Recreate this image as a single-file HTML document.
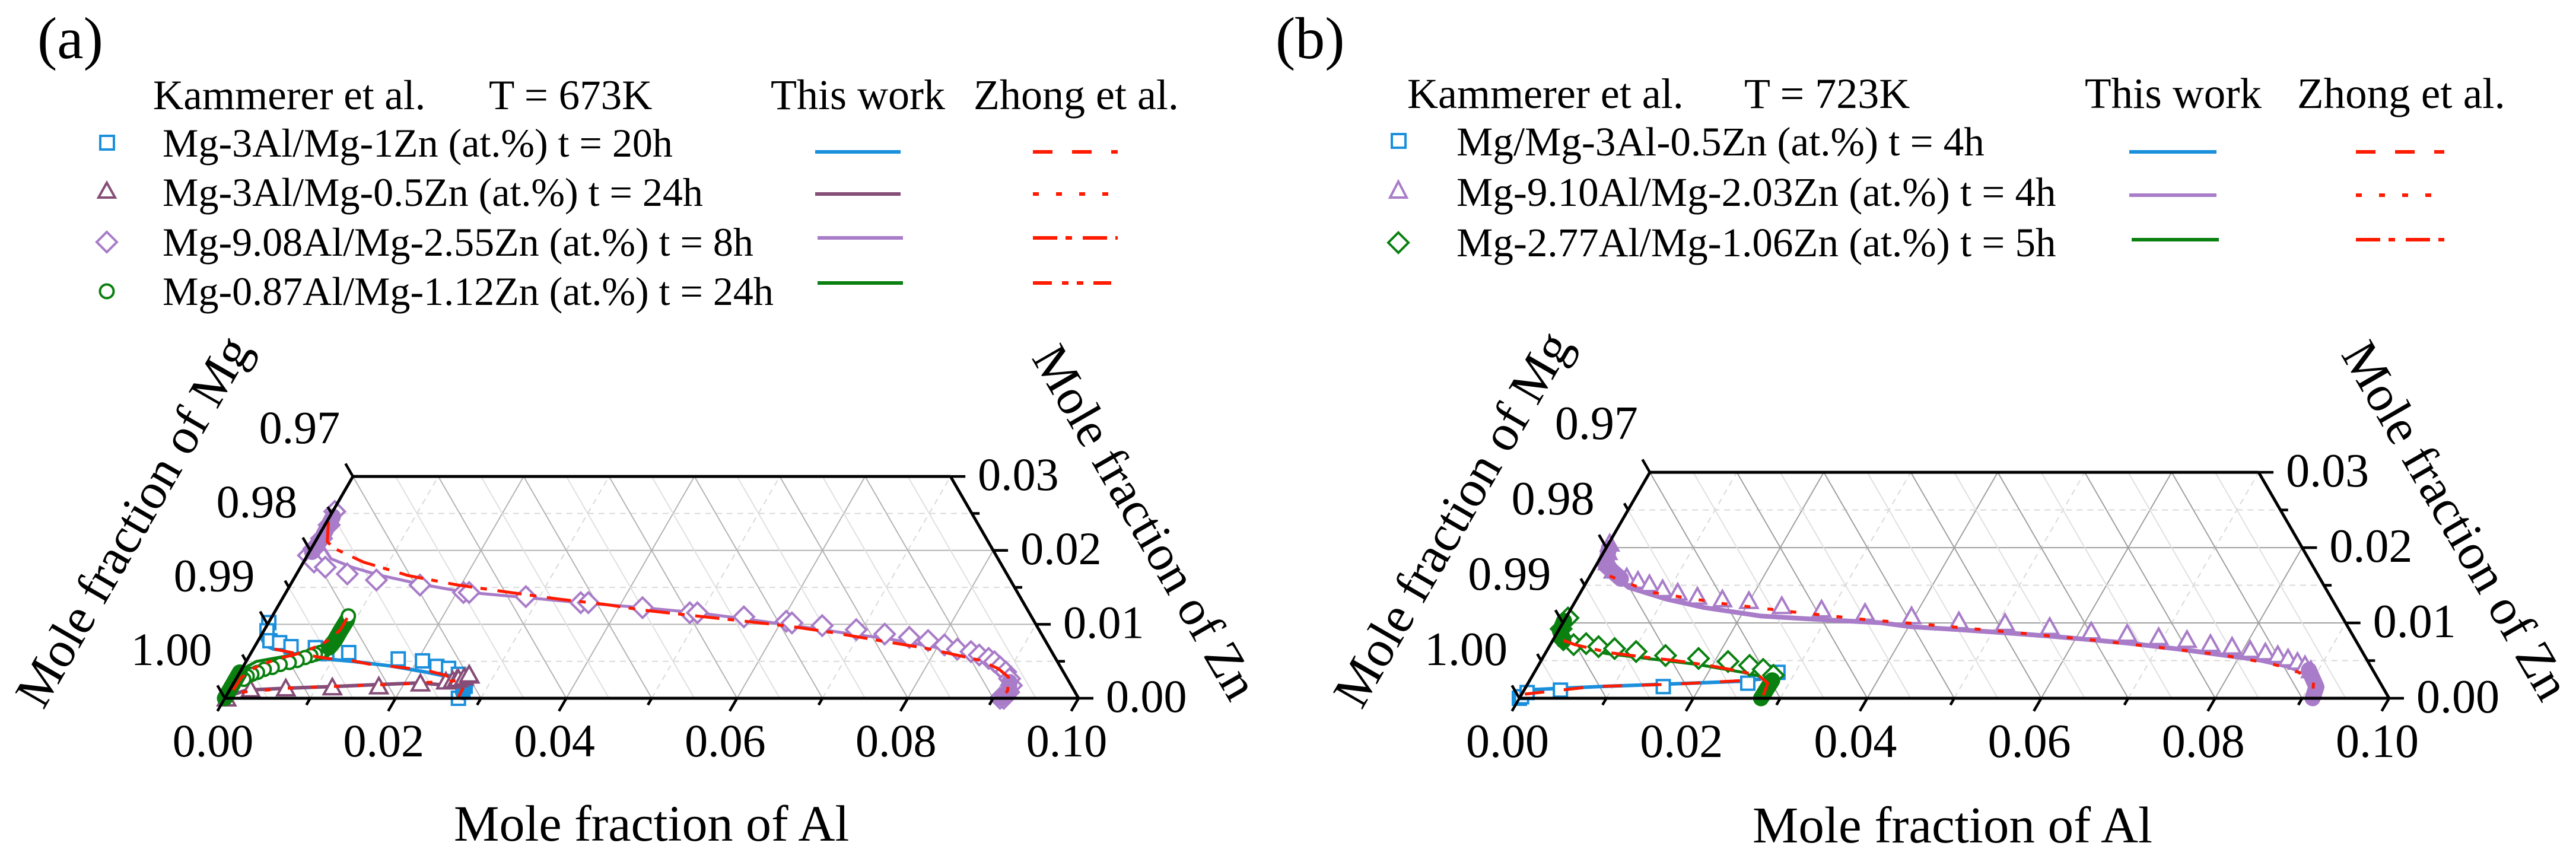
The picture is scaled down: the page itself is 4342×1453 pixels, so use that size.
<!DOCTYPE html>
<html lang="en">
<head>
<meta charset="utf-8">
<title>Mg-Al-Zn diffusion paths at 673K and 723K</title>
<style>
html,body{margin:0;padding:0;background:#fff;width:4342px;height:1453px;overflow:hidden}
svg{display:block}
text{font-family:"Liberation Serif",serif;fill:#000}
</style>
</head>
<body>
<svg id="figure" xmlns="http://www.w3.org/2000/svg" width="4342" height="1453" viewBox="0 0 4342 1453">
<rect width="4342" height="1453" fill="#fff"/>

<g>
<text x="63" y="98" font-size="100">(a)</text>
<text x="258" y="184" font-size="71">Kammerer et al.</text>
<text x="824" y="184" font-size="71">T = 673K</text>
<text x="1299" y="184" font-size="72">This work</text>
<text x="1641" y="184" font-size="72">Zhong et al.</text>
<text x="274" y="264" font-size="68">Mg-3Al/Mg-1Zn (at.%) t = 20h</text>
<text x="274" y="347" font-size="68">Mg-3Al/Mg-0.5Zn (at.%) t = 24h</text>
<text x="274" y="431" font-size="68">Mg-9.08Al/Mg-2.55Zn (at.%) t = 8h</text>
<text x="274" y="514" font-size="68">Mg-0.87Al/Mg-1.12Zn (at.%) t = 24h</text>
<rect x="169" y="229" width="23" height="23" fill="none" stroke="#1a8fdc" stroke-width="4"/>
<path d="M180 308 L194 333 L166 333 Z" fill="none" stroke="#854d77" stroke-width="4"/>
<path d="M180 391 L197 408 L180 425 L163 408 Z" fill="none" stroke="#a87cc8" stroke-width="4"/>
<circle cx="180" cy="491" r="11.5" fill="none" stroke="#0a8010" stroke-width="4"/>
<line x1="1374" x2="1518" y1="256" y2="256" stroke="#1a8fdc" stroke-width="6"/>
<line x1="1374" x2="1518" y1="327" y2="327" stroke="#854d77" stroke-width="6"/>
<line x1="1378" x2="1522" y1="401" y2="401" stroke="#a87cc8" stroke-width="6"/>
<line x1="1378" x2="1522" y1="477" y2="477" stroke="#0a8010" stroke-width="6"/>
<line x1="1741" x2="1884" y1="256" y2="256" stroke="#ff1a00" stroke-width="6" stroke-dasharray="33 33"/>
<line x1="1741" x2="1873" y1="327" y2="327" stroke="#ff1a00" stroke-width="6" stroke-dasharray="10 29"/>
<line x1="1741" x2="1884" y1="401" y2="401" stroke="#ff1a00" stroke-width="6" stroke-dasharray="41 14 11 18"/>
<line x1="1741" x2="1873" y1="477" y2="477" stroke="#ff1a00" stroke-width="6" stroke-dasharray="32 17 11 14 11 17"/>
</g>

<g>
<text x="2150" y="98" font-size="100">(b)</text>
<text x="2372" y="182" font-size="72">Kammerer et al.</text>
<text x="2940" y="182" font-size="72">T = 723K</text>
<text x="3514" y="182" font-size="73">This work</text>
<text x="3872" y="182" font-size="73">Zhong et al.</text>
<text x="2455" y="262" font-size="69">Mg/Mg-3Al-0.5Zn (at.%) t = 4h</text>
<text x="2455" y="347" font-size="69">Mg-9.10Al/Mg-2.03Zn (at.%) t = 4h</text>
<text x="2455" y="432" font-size="69">Mg-2.77Al/Mg-1.06Zn (at.%) t = 5h</text>
<rect x="2346" y="226" width="23" height="23" fill="none" stroke="#1a8fdc" stroke-width="4"/>
<path d="M2357 306 L2371 333 L2343 333 Z" fill="none" stroke="#a87cc8" stroke-width="4"/>
<path d="M2357 392 L2374 409 L2357 426 L2340 409 Z" fill="none" stroke="#0a8010" stroke-width="4"/>
<line x1="3589" x2="3736" y1="256" y2="256" stroke="#1a8fdc" stroke-width="6"/>
<line x1="3589" x2="3736" y1="329" y2="329" stroke="#a87cc8" stroke-width="6"/>
<line x1="3593" x2="3740" y1="404" y2="404" stroke="#0a8010" stroke-width="6"/>
<line x1="3971" x2="4120" y1="256" y2="256" stroke="#ff1a00" stroke-width="6" stroke-dasharray="33 33"/>
<line x1="3971" x2="4107" y1="329" y2="329" stroke="#ff1a00" stroke-width="6" stroke-dasharray="10 29"/>
<line x1="3971" x2="4120" y1="404" y2="404" stroke="#ff1a00" stroke-width="6" stroke-dasharray="41 14 11 18"/>
</g>

<g id="plot-a"></g>
<g id="plot-b"></g>

<text x="765" y="1417" font-size="86">Mole fraction of Al</text>
<text transform="translate(73 1198) rotate(-60)" font-size="86">Mole fraction of Mg</text>
<text transform="translate(1738 603) rotate(60)" font-size="85">Mole fraction of Zn</text>
<text x="2954" y="1420" font-size="87">Mole fraction of Al</text>
<text transform="translate(2295 1198) rotate(-60)" font-size="87">Mole fraction of Mg</text>
<text transform="translate(3945 597) rotate(60)" font-size="86">Mole fraction of Zn</text>
</svg>

<script>
// Each point is [mole fraction Al, mole fraction Zn]; Mg is the balance.
const alTickValues = [0, 0.02, 0.04, 0.06, 0.08, 0.10];
const alTickLabels = ["0.00", "0.02", "0.04", "0.06", "0.08", "0.10"];
const znTickValues = [0, 0.01, 0.02, 0.03];
const znTickLabels = ["0.00", "0.01", "0.02", "0.03"];
const mgTickLabels = ["1.00", "0.99", "0.98", "0.97"];

// Panel (a), T = 673K
const a_blue_exp = [[0.00003,0.01024],[0.00038,0.00912],[0.00139,0.00778],[0.00266,0.00752],[0.00426,0.00698],[0.00718,0.00685],[0.00891,0.00605],[0.01142,0.00618],[0.01765,0.00532],[0.02062,0.00506],[0.02268,0.00431],[0.02419,0.00404],[0.02574,0.00324],[0.02653,0.00243],[0.02733,0.00163],[0.02747,0.00083],[0.02736,0]];
const a_blue_calc = [[0,0.01024],[0.00032,0.00805],[0.00119,0.00712],[0.00235,0.00666],[0.00465,0.00631],[0.00765,0.00564],[0.00942,0.0053],[0.01251,0.00498],[0.01733,0.00436],[0.02201,0.0035],[0.02501,0.00284],[0.027,0.0023],[0.02786,0.00163],[0.02801,0.00056],[0.02775,0]];
const a_blue_zhong = [[0.00248,0.00666],[0.00472,0.00618],[0.00938,0.00538],[0.01247,0.00506],[0.01453,0.00463],[0.01791,0.00425],[0.01962,0.00404],[0.02221,0.00364],[0.02404,0.00318],[0.02614,0.00243],[0.02721,0.00136],[0.02728,0.00016]];
const a_blue_band = [[0.02733,0.00163],[0.02747,0.00083]];

const a_plum_exp = [[0.0002,0],[0.0024,0.00123],[0.00646,0.00136],[0.01184,0.0015],[0.01722,0.00163],[0.02189,0.00203],[0.02474,0.0023],[0.02547,0.00243],[0.02588,0.00257],[0.02603,0.00265],[0.0266,0.00284],[0.02714,0.0031],[0.02699,0.00324]];
const a_plum_calc = [[0.00034,0.00029],[0.00194,0.0011],[0.00646,0.00136],[0.0118,0.00158],[0.01712,0.00185],[0.02187,0.00209],[0.02558,0.00169],[0.02839,0.00243]];
const a_plum_zhong = [[0.00155,0.00083],[0.00736,0.00142],[0.01532,0.00174],[0.02065,0.00198],[0.02603,0.00238]];

const a_purple_exp = [[0.00024,0.02527],[0.0005,0.02344],[0.00052,0.02161],[0.00032,0.02024],[0.00012,0.01933],[0.00123,0.01842],[0.0029,0.01773],[0.00593,0.01682],[0.00976,0.01599],[0.0152,0.01531],[0.0208,0.0143],[0.02146,0.0143],[0.02838,0.01375],[0.03522,0.01293],[0.03611,0.01293],[0.0428,0.01225],[0.04868,0.01156],[0.04957,0.01156],[0.05529,0.01101],[0.06055,0.01042],[0.06133,0.01019],[0.06506,0.00982],[0.06932,0.00928],[0.07295,0.00868],[0.07606,0.00823],[0.07847,0.00781],[0.08068,0.00722],[0.08248,0.00663],[0.08424,0.00631],[0.08544,0.00585],[0.08677,0.00539],[0.08767,0.00494],[0.08868,0.00425],[0.08969,0.00356],[0.09059,0.00265],[0.09126,0.00174],[0.09141,0.00082],[0.09124,0],[0.0908,0]];
const a_purple_calc = [[0.00037,0.02458],[0.00082,0.02207],[0.00131,0.02047],[0.003,0.01887],[0.00601,0.01773],[0.00964,0.01668],[0.01513,0.01545],[0.02075,0.01439],[0.02845,0.01362],[0.03522,0.01293],[0.0428,0.01225],[0.04957,0.01156],[0.05552,0.01074],[0.06078,0.00996],[0.06533,0.00928],[0.06966,0.00859],[0.07322,0.00813],[0.07884,0.00708],[0.08264,0.00631],[0.08566,0.00539],[0.0879,0.00448],[0.08957,0.00334],[0.09071,0.00196],[0.09094,0.00059],[0.0905,0]];
const a_purple_zhong = [[0.00018,0.0239],[0.00142,0.02116],[0.00276,0.02024],[0.007,0.01842],[0.01322,0.01659],[0.01964,0.01531],[0.02634,0.0143],[0.03256,0.01339],[0.03814,0.0127],[0.04296,0.01193],[0.04908,0.0112],[0.05568,0.01042],[0.06134,0.00973],[0.06662,0.00891],[0.07345,0.00768],[0.07878,0.00676],[0.08578,0.00516],[0.08857,0.00402],[0.09034,0.00288],[0.09117,0.00105],[0.091,0]];
const a_purple_band_top = [[0.00037,0.02458],[0.00052,0.02161],[0.00032,0.01979]];
const a_purple_band_end = [[0.09081,0.00219],[0.09141,0.00082],[0.091,0]];

const a_green_exp = [[0.0089,0.01113],[0.00837,0.00631],[0.00804,0.00618],[0.00762,0.00596],[0.00718,0.00578],[0.00664,0.00551],[0.00591,0.00511],[0.00512,0.00484],[0.00419,0.00457],[0.00346,0.00417],[0.00266,0.00391],[0.00207,0.0035],[0.00154,0.00324],[0.00113,0.00297],[0.00093,0.00257]];
const a_green_calc = [[0.00902,0.01059],[0.00897,0.00778],[0.00764,0.00671],[0.00465,0.00578],[0.00119,0.00498],[0.0002,0.00404],[0,0]];
const a_green_zhong = [[0.00889,0.01086],[0.0089,0.00925],[0.00824,0.00792],[0.00744,0.00711],[0.00632,0.00645],[0.00514,0.00586],[0.00352,0.00538],[0.0026,0.00484],[0.00146,0.00417],[0.00054,0.00284],[0.00034,0.00029]];
const a_green_band_upper = [[0.00902,0.01059],[0.00897,0.00912],[0.00897,0.00778],[0.00878,0.00685]];
const a_green_band_lower = [[0,0.0035],[0,0.0019],[0,0]];

// Panel (b), T = 723K
const b_blue_exp = [[0,0],[0.00015,0.0002],[0.00051,0.00076],[0.00418,0.00108],[0.01577,0.00155],[0.02526,0.002],[0.02801,0.00344]];
const b_blue_calc = [[0,0.00016],[0.00122,0.00116],[0.00922,0.0016],[0.01562,0.00186],[0.02456,0.00226],[0.02866,0.00291]];
const b_blue_zhong = [[0.00035,0.00055],[0.00768,0.00155],[0.01653,0.00186],[0.02097,0.00213],[0.02642,0.00247]];

const b_purple_exp = [[0.0001,0.02057],[0.00044,0.01944],[0.00111,0.0181],[0.00232,0.01698],[0.0043,0.01608],[0.00582,0.01563],[0.00736,0.01518],[0.00921,0.01451],[0.01118,0.01406],[0.01371,0.01352],[0.01676,0.01316],[0.01992,0.01294],[0.02404,0.01227],[0.02883,0.01182],[0.03406,0.01137],[0.03963,0.01092],[0.04541,0.01025],[0.05083,0.01002],[0.05623,0.00949],[0.0613,0.0089],[0.06559,0.00859],[0.06943,0.00814],[0.07287,0.00778],[0.07584,0.00724],[0.0785,0.00689],[0.08081,0.00644],[0.08271,0.00612],[0.08432,0.00576],[0.08572,0.00532],[0.08703,0.00487],[0.08812,0.00442],[0.08912,0.00375]];
const b_purple_calc = [[0.00067,0.0181],[0.00266,0.0163],[0.00518,0.01473],[0.01032,0.01316],[0.01523,0.01204],[0.02232,0.01092],[0.02906,0.01047],[0.0366,0.01002],[0.04035,0.00949],[0.04575,0.00913],[0.05163,0.00868],[0.05707,0.00823],[0.06165,0.00778],[0.06622,0.00733],[0.07319,0.00644],[0.07788,0.00576],[0.08256,0.00509],[0.08649,0.00419],[0.08978,0.00285],[0.09154,0.0015],[0.09164,0]];
const b_purple_zhong = [[0.00227,0.01622],[0.00822,0.01406],[0.01705,0.01258],[0.02575,0.01146],[0.03437,0.01047],[0.04309,0.00967],[0.05169,0.00881],[0.06036,0.00792],[0.06906,0.00689],[0.07788,0.00576],[0.08388,0.00464],[0.08687,0.00388],[0.09013,0.0024],[0.09112,0.00016]];
const b_purple_band_top = [[0.00034,0.01989],[0.00111,0.01765],[0.00375,0.01586]];
const b_purple_band_end = [[0.0889,0.00375],[0.09089,0.0015],[0.0912,0]];

const b_green_exp = [[0.00026,0.01066],[0.00019,0.00922],[0.00117,0.00777],[0.00268,0.00712],[0.00405,0.00725],[0.00568,0.00685],[0.00765,0.00659],[0.01032,0.0062],[0.01397,0.00567],[0.01796,0.00528],[0.02155,0.00488],[0.02429,0.00436],[0.02612,0.00383],[0.02769,0.00305]];
const b_green_calc = [[0.00121,0.00769],[0.00294,0.00685],[0.00705,0.00593],[0.01208,0.00528],[0.01823,0.00449],[0.02397,0.00344],[0.02648,0.00286],[0.02788,0.00239],[0.02778,0]];
const b_green_zhong = [[0.00121,0.00769],[0.00281,0.00712],[0.00726,0.00606],[0.01146,0.00549],[0.01535,0.00501],[0.01959,0.00436],[0.02423,0.00344],[0.02619,0.00291],[0.02756,0.002],[0.02791,0]];
const b_green_band_top = [[0,0.01027],[0.00019,0.00895],[0.00124,0.00764]];
const b_green_band_end = [[0.02788,0.00239],[0.02778,0]];

const SVGNS = "http://www.w3.org/2000/svg";
const BLUE = "#1a8fdc", PLUM = "#854d77", PURPLE = "#a87cc8", GREEN = "#0a8010", RED = "#ff1a00";
const DASH = "33 33", DOT = "10 29", DASHDOT = "41 14 11 18", DASHDOTDOT = "32 17 11 14 11 17";

function make(tag, attrs, parent) {
  const el = document.createElementNS(SVGNS, tag);
  for (const k in attrs) el.setAttribute(k, attrs[k]);
  parent.appendChild(el);
  return el;
}

function drawPlot(cfg) {
  const root = document.getElementById(cfg.id);
  const px = (al, zn) => cfg.ox + cfg.L * (al + zn / 2) / 0.1;
  const py = (zn) => cfg.oy - cfg.L * 0.8660254 * zn / 0.1;
  const segment = (a1, z1, a2, z2, attrs, name) => {
    const el = make("line", Object.assign({ x1: px(a1, z1), y1: py(z1), x2: px(a2, z2), y2: py(z2) }, attrs), root);
    
    
  };
  const MAJOR = { stroke: cfg.gridMajor, "stroke-width": 2 };
  const MINOR = { stroke: "#e0e0e0", "stroke-width": 2 };
  const DASHED = { stroke: "#dadada", "stroke-width": 2, "stroke-dasharray": "10 8" };

  // grid: constant Zn
  for (let i = 1; i < 6; i++) {
    const z = i * 0.005;
    segment(0, z, 0.1 - z, z, i % 2 === 0 ? MAJOR : DASHED, "grid-zn-" + z.toFixed(3));
  }
  // grid: constant Al
  for (let i = 1; i < 10; i++) {
    const a = i * 0.01;
    const top = Math.min(0.03, 0.1 - a);
    segment(a, 0, a, top, i % 2 === 0 ? MAJOR : DASHED, "grid-al-" + a.toFixed(2));
  }
  // grid: constant Mg
  for (let i = 1; i < 20; i++) {
    const c = i * 0.005;
    const top = Math.min(0.03, c);
    segment(c, 0, c - top, top, i % 2 === 0 ? MAJOR : MINOR, "grid-mg-" + (1 - c).toFixed(3));
  }

  const polyline = (data, color, width, dash, name) => {
    const d = data.map((p, i) => (i ? "L" : "M") + px(p[0], p[1]).toFixed(1) + " " + py(p[1]).toFixed(1)).join(" ");
    const el = make("path", { d: d, fill: "none", stroke: color, "stroke-width": width, "stroke-linejoin": "round" }, root);
    if (dash) el.setAttribute("stroke-dasharray", dash);
    if (width > 12) el.setAttribute("stroke-linecap", "round");
    
    
  };
  const marker = (kind, p, color, name) => {
    const x = px(p[0], p[1]), y = py(p[1]);
    const st = { fill: "#fff", stroke: color, "stroke-width": 4 };
    let el;
    if (kind === "square") el = make("rect", Object.assign({ x: x - 11, y: y - 11, width: 22, height: 22 }, st), root);
    else if (kind === "circle") el = make("circle", Object.assign({ cx: x, cy: y, r: 11 }, st), root);
    else if (kind === "triangle") el = make("path", Object.assign({ d: `M${x} ${y - 14} L${x + 14.5} ${y + 12} L${x - 14.5} ${y + 12} Z` }, st), root);
    else el = make("path", Object.assign({ d: `M${x} ${y - 17} L${x + 17} ${y} L${x} ${y + 17} L${x - 17} ${y} Z` }, st), root);
    
    
  };

  cfg.series.forEach((s) => {
    polyline(s.calc, s.color, s.width, null, s.name + "-this-work-line");
    s.exp.forEach((p, i) => marker(s.kind, p, s.color, s.name + "-point-" + i));
    (s.bands || []).forEach((b, i) => polyline(b, s.color, 27, null, s.name + "-dense-points-" + i));
    if (s.redrawLast) marker(s.kind, s.exp[0], s.color, s.name + "-point-end");
  });
  cfg.series.forEach((s) => polyline(s.zhong, RED, 5, s.dash, s.name + "-zhong-line"));

  // axes
  const AXIS = { stroke: "#000", "stroke-width": 5 };
  segment(0, 0, 0.1, 0, AXIS, "al-axis-line");
  segment(0, 0, 0, 0.03, AXIS, "mg-axis-line");
  segment(0.1, 0, 0.07, 0.03, AXIS, "zn-axis-line");
  segment(0, 0.03, 0.07, 0.03, AXIS, "top-edge-line");

  const tick = (x, y, dx, dy, name) => {
    const el = make("line", { x1: x, y1: y, x2: x + dx, y2: y + dy, stroke: "#000", "stroke-width": 4.5 }, root);
    
    
  };
  const label = (text, x, y, anchor, name) => {
    const el = make("text", { x: x, y: y, "font-size": cfg.fs, "text-anchor": anchor }, root);
    el.textContent = text;
    
    
  };
  for (let i = 0; i <= 10; i++) {
    const a = i * 0.01, major = i % 2 === 0, len = major ? 25 : 13;
    tick(px(a, 0), py(0), -0.5 * len, 0.866 * len, "al-tick-" + a.toFixed(2));
  }
  for (let i = 0; i <= 6; i++) {
    const z = i * 0.005, major = i % 2 === 0, len = major ? 25 : 13;
    tick(px(0, z), py(z), -0.5 * len, -0.866 * len, "mg-tick-" + (1 - z).toFixed(3));
    tick(px(0.1 - z, z), py(z), len, 0, "zn-tick-" + z.toFixed(3));
  }
  alTickValues.forEach((a, i) => label(alTickLabels[i], px(a, 0) - 20, py(0) + cfg.bottomDy, "middle", "al-tick-label-" + alTickLabels[i]));
  znTickValues.forEach((z, i) => {
    label(mgTickLabels[i], px(0, z) - 90, py(z) - 56, "middle", "mg-tick-label-" + mgTickLabels[i]);
    label(znTickLabels[i], px(0.1 - z, z) + 46, py(z) + cfg.rightDy, "start", "zn-tick-label-" + znTickLabels[i]);
  });
}

drawPlot({
  id: "plot-a", ox: 379, oy: 1177, L: 1439, fs: 78, bottomDy: 98, rightDy: 23, gridMajor: "#b4b4b4",
  series: [
    { name: "mg3al-mg1zn", kind: "square", color: BLUE, width: 6, dash: DASH, exp: a_blue_exp, calc: a_blue_calc, zhong: a_blue_zhong, bands: [a_blue_band] },
    { name: "mg3al-mg05zn", kind: "triangle", color: PLUM, width: 6, dash: DOT, exp: a_plum_exp, calc: a_plum_calc, zhong: a_plum_zhong },
    { name: "mg908al-mg255zn", kind: "diamond", color: PURPLE, width: 5, dash: DASHDOT, exp: a_purple_exp, calc: a_purple_calc, zhong: a_purple_zhong, bands: [a_purple_band_top, a_purple_band_end] },
    { name: "mg087al-mg112zn", kind: "circle", color: GREEN, width: 5, dash: DASHDOTDOT, exp: a_green_exp, calc: a_green_calc, zhong: a_green_zhong, bands: [a_green_band_upper, a_green_band_lower], redrawLast: true }
  ]
});
drawPlot({
  id: "plot-b", ox: 2561, oy: 1177, L: 1466, fs: 80, bottomDy: 99, rightDy: 24, gridMajor: "#a0a0a0",
  series: [
    { name: "mg-mg3al05zn", kind: "square", color: BLUE, width: 6, dash: DASH, exp: b_blue_exp, calc: b_blue_calc, zhong: b_blue_zhong },
    { name: "mg910al-mg203zn", kind: "triangle", color: PURPLE, width: 8, dash: DOT, exp: b_purple_exp, calc: b_purple_calc, zhong: b_purple_zhong, bands: [b_purple_band_top, b_purple_band_end] },
    { name: "mg277al-mg106zn", kind: "diamond", color: GREEN, width: 5, dash: DASHDOT, exp: b_green_exp, calc: b_green_calc, zhong: b_green_zhong, bands: [b_green_band_top, b_green_band_end] }
  ]
});
</script>
</body>
</html>
